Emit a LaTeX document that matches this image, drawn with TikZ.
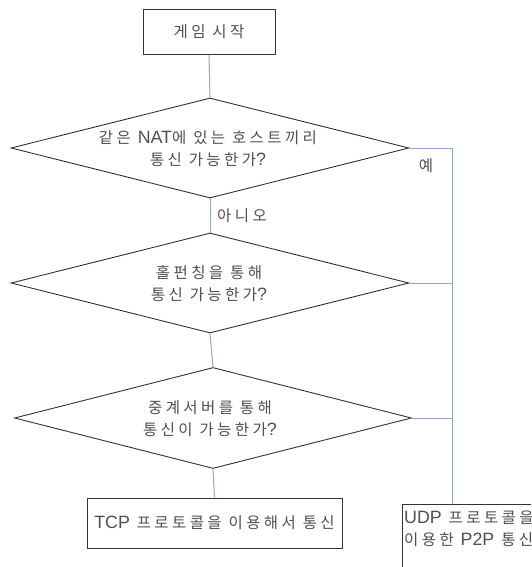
\documentclass[tikz,border=0pt]{standalone}
\usepackage{fontspec}
\setmainfont{Noto Sans CJK KR}[LetterSpace=22]
\newfontfamily\latn{Liberation Sans}[Scale=1.15]
\usetikzlibrary{shapes.geometric}
\definecolor{inkgrey}{HTML}{505050}
\definecolor{edgegrey}{HTML}{333333}
\definecolor{linkblue}{HTML}{8EA6CC}
\tikzset{
  txt/.style={text=inkgrey, font=\fontsize{15.5}{22}\selectfont, align=center, inner sep=0pt},
  procbox/.style={draw=edgegrey, line width=0.9pt, fill=white, inner sep=0pt},
  decision/.style={diamond, draw=edgegrey, line width=0.9pt, inner sep=0pt},
  link/.style={draw=linkblue, line width=1pt},
}
\begin{document}
\begin{tikzpicture}[x=1pt,y=-1pt]
  \clip (0,0) rectangle (531,567);
  \fill[white] (0,0) rectangle (531,567);

  % start box
  \node[procbox, minimum width=132pt, minimum height=45pt] (start) at (209,32) {};
  \node[txt] (starttxt) at (start.center) {게임 시작};

  % decisions
  \node[decision, minimum width=398pt, minimum height=100pt] (d1) at (210,148) {};
  \node[txt] (d1txt) at (208,149) {같은 {\latn NAT}에 있는 호스트끼리\\통신 가능한가{\latn ?}};

  \node[decision, minimum width=398pt, minimum height=100pt] (d2) at (210,283) {};
  \node[txt] (d2txt) at (209,284) {홀펀칭을 통해\\통신 가능한가{\latn ?}};

  \node[decision, minimum width=397pt, minimum height=101pt] (d3) at (213,418) {};
  \node[txt] (d3txt) at (210,419) {중계서버를 통해\\통신이 가능한가{\latn ?}};

  % outcomes
  \node[procbox, minimum width=255pt, minimum height=50pt] (tcp) at (214.5,523) {};
  \node[txt] (tcptxt) at (tcp.center) {{\latn TCP} 프로토콜을 이용해서 통신};

  \coordinate (udpnw) at (402,504);
  \node[procbox, anchor=north west, minimum width=220pt, minimum height=90pt] (udp) at (udpnw) {};
  \node[txt, anchor=west, align=left] (udptxt) at (404,529) {{\latn UDP} 프로토콜을\\이용한 {\latn P2P} 통신};

  % connectors
  \coordinate (bus1) at (452,148);
  \coordinate (bus2) at (452,283);
  \coordinate (bus3) at (452,418);
  \coordinate (udptop) at (452,504);
  \path[link] (start.south) -- (d1.north);
  \path[link] (d1.south) -- (d2.north);
  \path[link] (d2.south) -- (d3.north);
  \path[link] (d3.south) -- (tcp.north);
  \path[link] (d1.east) -- (bus1) -- (udptop);
  \path[link] (d2.east) -- (bus2);
  \path[link] (d3.east) -- (bus3);

  % branch labels
  \node[txt] (yes) at (426,166) {예};
  \node[txt] (no) at (242,216) {아니오};
\end{tikzpicture}
\end{document}
